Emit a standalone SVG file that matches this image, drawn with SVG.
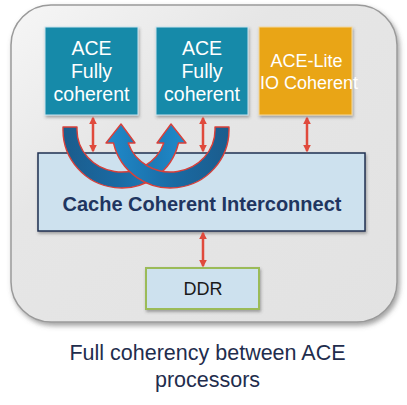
<svg xmlns="http://www.w3.org/2000/svg" width="407" height="405" viewBox="0 0 407 405">
<defs>
<linearGradient id="bg" x1="0" y1="0" x2="1" y2="1">
<stop offset="0" stop-color="#f6f6f6"/>
<stop offset="0.35" stop-color="#e6e6e6"/>
<stop offset="1" stop-color="#e2e2e2"/>
</linearGradient>
<linearGradient id="gL" gradientUnits="userSpaceOnUse" x1="63" y1="0" x2="186" y2="0">
<stop offset="0" stop-color="#1b5c8c"/>
<stop offset="0.45" stop-color="#1a6aa3"/>
<stop offset="1" stop-color="#1f8bcb"/>
</linearGradient>
<linearGradient id="gR" gradientUnits="userSpaceOnUse" x1="229" y1="0" x2="106" y2="0">
<stop offset="0" stop-color="#1b5c8c"/>
<stop offset="0.45" stop-color="#1a6aa3"/>
<stop offset="1" stop-color="#1f8bcb"/>
</linearGradient>
<filter id="sh" x="-10%" y="-10%" width="125%" height="125%">
<feDropShadow dx="2" dy="3" stdDeviation="2.5" flood-color="#555" flood-opacity="0.55"/>
</filter>
<filter id="bs" x="-10%" y="-10%" width="125%" height="130%">
<feDropShadow dx="1" dy="2" stdDeviation="1.5" flood-color="#444" flood-opacity="0.45"/>
</filter>
<marker id="ah" viewBox="0 0 10 10" refX="8" refY="5" markerWidth="3.2" markerHeight="3.2" orient="auto-start-reverse">
<path d="M0,0 L10,5 L0,10 z" fill="#e04a3c"/>
</marker>
</defs>
<style>
.proc{fill:#168aa9;stroke:#c9e3ee;stroke-width:1}
.lite{fill:#e9a516;stroke:#f3d9a0;stroke-width:1}
.wt{font-family:"Liberation Sans",Arial,sans-serif;font-size:19.5px;fill:#ffffff;text-anchor:middle}
.wl{font-family:"Liberation Sans",Arial,sans-serif;font-size:18px;fill:#ffffff;text-anchor:middle}
.link{stroke:#e04a3c;stroke-width:2.5;fill:none;marker-start:url(#ah);marker-end:url(#ah)}
.arc{stroke:#d9403a;stroke-width:1.4;stroke-linejoin:round}
</style>
<g id="container">
<rect x="11" y="5" width="386" height="317" rx="40" fill="url(#bg)" stroke="#9a9a9a" stroke-width="1.5" filter="url(#sh)"/>
</g>
<g id="ace1">
<rect class="proc" x="45" y="27" width="93" height="88" filter="url(#bs)"/>
<text class="wt" x="91.5" y="55">ACE</text>
<text class="wt" x="91.5" y="78">Fully</text>
<text class="wt" x="91.5" y="101">coherent</text>
</g>
<g id="ace2">
<rect class="proc" x="156" y="27" width="92" height="88" filter="url(#bs)"/>
<text class="wt" x="202" y="55">ACE</text>
<text class="wt" x="202" y="78">Fully</text>
<text class="wt" x="202" y="101">coherent</text>
</g>
<g id="acelite">
<rect class="lite" x="259" y="27" width="93" height="88" filter="url(#bs)"/>
<text class="wl" x="306.5" y="67">ACE-Lite</text>
<text class="wl" x="309" y="89">IO Coherent</text>
</g>
<g id="interconnect">
<rect x="38" y="153" width="327" height="78" fill="#cde1ee" stroke="#1f3152" stroke-width="1.5" filter="url(#bs)"/>
<text x="202" y="211" font-family="'Liberation Sans',Arial,sans-serif" font-size="20" font-weight="bold" fill="#1f3560" text-anchor="middle">Cache Coherent Interconnect</text>
</g>
<g id="ddr">
<rect x="146" y="268" width="113" height="41" fill="#cde1ee" stroke="#9bbb59" stroke-width="2" filter="url(#bs)"/>
<text x="203" y="295" font-family="'Liberation Sans',Arial,sans-serif" font-size="18" fill="#1a1a1a" text-anchor="middle">DDR</text>
</g>
<g id="connectors">
<line class="link" x1="93" y1="118" x2="93" y2="151"/>
<line class="link" x1="203" y1="118" x2="203" y2="151"/>
<line class="link" x1="307" y1="118" x2="307" y2="151"/>
<line class="link" x1="203" y1="233" x2="203" y2="266"/>
<path class="arc" fill="url(#gL)" d="M63,127 L63,130 A58.5,58 0 0 0 178.5,143 L186,143 L171,124 L157,143 L163.8,143 A44.5,42 0 0 1 77,130 L77,127 Z"/>
<path class="arc" fill="url(#gR)" d="M229,127 L229,130 A58.5,58 0 0 1 113.5,143 L106,143 L121,124 L135,143 L128.2,143 A44.5,42 0 0 0 215,130 L215,127 Z"/>
</g>
<g id="caption" font-family="'Liberation Sans',Arial,sans-serif" font-size="21.5" fill="#1f2d4d" text-anchor="middle">
<text x="207.5" y="360">Full coherency between ACE</text>
<text x="207.5" y="387">processors</text>
</g>
</svg>
